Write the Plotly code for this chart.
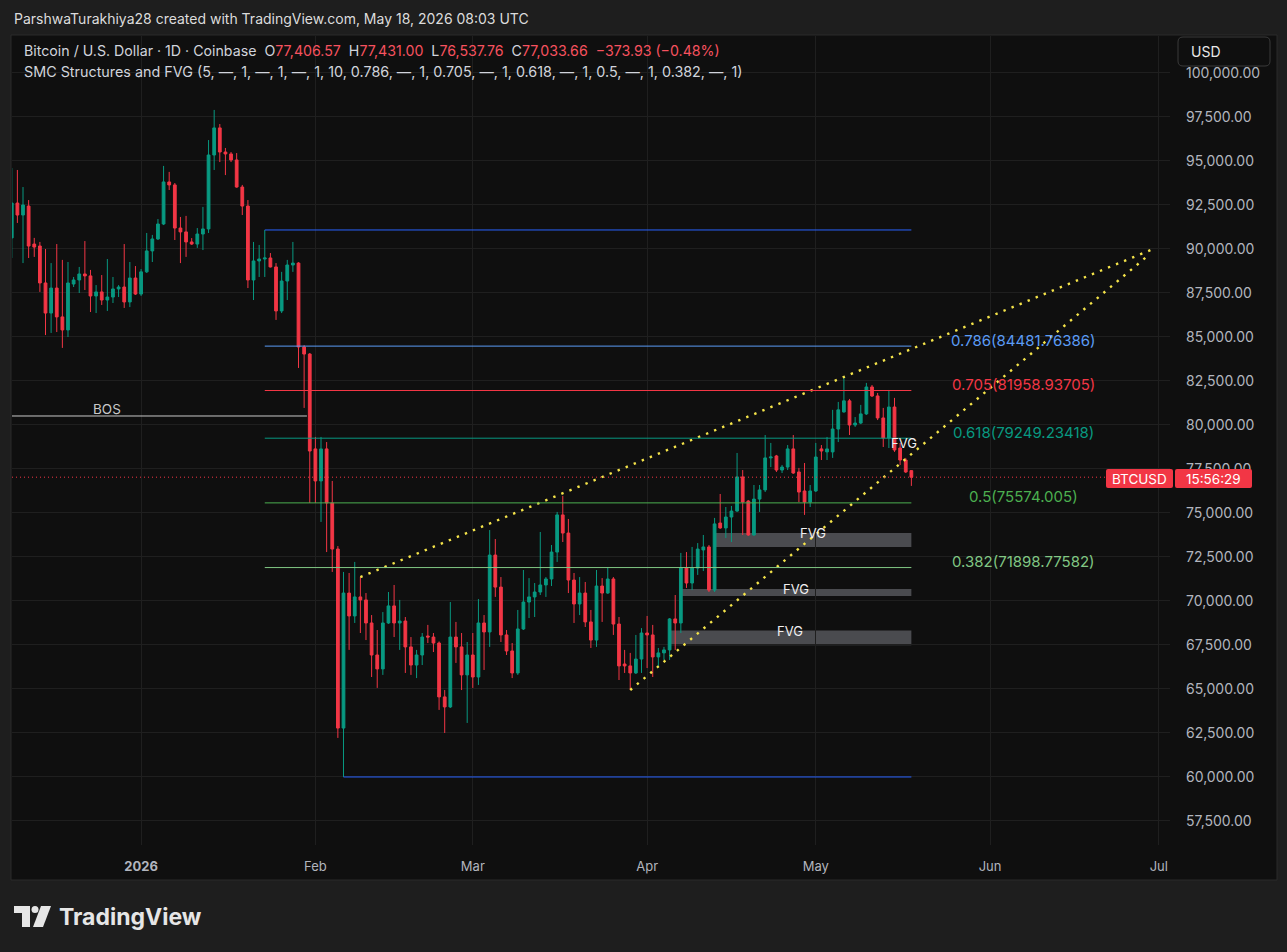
import plotly.graph_objects as go
import pandas as pd

# ---------------- DATA ----------------
dates = pd.date_range("2025-12-09", "2026-05-18", freq="D")

opens = [90630, 92610, 91930, 92440, 90280, 90170, 88070, 86360, 87780, 86140,
         85400, 88010, 88240, 88580, 88470, 87330, 87560, 87100, 87270, 87730,
         87840, 86990, 88350, 87440, 88700, 89890, 90570, 91420, 93810, 93640,
         91190, 90970, 90400, 90280, 90850, 91140, 95340, 96880, 95510, 95400,
         95060, 93520, 92440, 88240, 89320, 89430, 89490, 88980, 86480, 88180,
         89090, 89200, 84430, 84030, 78640, 76820, 78640, 75570, 72950, 62780,
         70450, 69150, 70230, 70060, 68750, 66930, 66140, 68750, 69720, 68750,
         68860, 67390, 66360, 66930, 68010, 67950, 67610, 64550, 63980, 67950,
         67390, 65800, 66930, 65680, 68750, 68240, 72610, 70790, 68070, 67160,
         65910, 68410, 69940, 70230, 70510, 70910, 71250, 72780, 74890, 73860,
         71190, 69830, 70450, 68810, 67780, 70850, 70450, 71250, 68690, 66420,
         66310, 65910, 66700, 68180, 68070, 66820, 67050, 67220, 68980, 68750,
         71870, 71020, 71870, 72900, 73070, 70620, 74430, 74150, 74770, 75110,
         77050, 75680, 73750, 75790, 76310, 78130, 78240, 77440, 77610, 78640,
         77330, 76250, 75620, 76250, 78640, 78470, 78470, 79770, 80740, 81370,
         80000, 80110, 80630, 82160, 81650, 80400, 79260, 81020, 78690, 78010,
         77406.57]

highs = [94600, 94490, 93520, 92780, 90630, 90400, 90000, 89200, 90280, 89380,
         89260, 88410, 88980, 90450, 88810, 87950, 88520, 89430, 88410, 87950,
         90280, 89260, 89030, 88860, 90910, 90800, 91700, 94720, 94380, 93750,
         91820, 91880, 90620, 91190, 92390, 96190, 97900, 97100, 95740, 95510,
         95450, 93640, 92780, 90400, 90230, 91080, 89770, 89200, 88700, 89380,
         90400, 89250, 84540, 84090, 79320, 79320, 79030, 76820, 73120, 71650,
         71590, 72220, 71360, 70450, 69200, 68350, 69370, 70510, 70910, 70060,
         69090, 67950, 67220, 68180, 68640, 68180, 67700, 64940, 69940, 68810,
         68180, 67670, 68180, 70110, 69200, 74030, 73520, 71360, 68350, 67610,
         69490, 71760, 71300, 71020, 73920, 71360, 73180, 75060, 75970, 74660,
         71590, 71360, 71080, 69490, 71760, 71300, 71930, 71360, 69090, 67220,
         67050, 68070, 68460, 69150, 68640, 67330, 67390, 69030, 70340, 72730,
         72780, 73070, 73290, 73750, 73180, 74720, 76080, 75340, 75400, 78410,
         77440, 75740, 76590, 76590, 79430, 78980, 78300, 77730, 78860, 79430,
         77560, 77840, 76590, 78980, 78860, 79320, 80860, 81310, 82780, 81480,
         80450, 81140, 82390, 82270, 81820, 80970, 81990, 81540, 78980, 78130,
         77431.00]

lows = [89490, 91480, 89200, 89490, 89550, 87560, 85110, 85230, 85280, 84380,
        85000, 87840, 87500, 87670, 86420, 86360, 86820, 86480, 86930, 87270,
        86650, 86700, 87390, 87330, 88640, 89260, 90510, 91360, 93350, 90510,
        89200, 89550, 90230, 90060, 89940, 90910, 94490, 94940, 94200, 94940,
        93480, 91930, 87780, 87100, 88410, 88410, 88950, 85970, 86360, 87100,
        88700, 83240, 80970, 75570, 75570, 74490, 72780, 71650, 62220, 60000,
        67220, 68750, 68180, 67780, 65680, 65060, 65800, 68700, 67950, 67220,
        65910, 65800, 65620, 66360, 67610, 67100, 63810, 62500, 63920, 66480,
        64940, 63070, 65060, 65230, 66080, 67390, 70230, 67670, 66930, 65620,
        65800, 68350, 69030, 69090, 70340, 70230, 70850, 72220, 73350, 70450,
        68750, 69200, 68520, 67330, 67390, 68810, 70400, 68070, 65510, 65910,
        64940, 65850, 65910, 66190, 65680, 66250, 66650, 66650, 67220, 68180,
        70740, 70620, 71480, 71700, 70510, 70510, 74100, 73580, 73350, 75060,
        73750, 73700, 73700, 75060, 76190, 77610, 77330, 77270, 77440, 77220,
        75620, 74890, 75340, 76190, 78010, 78010, 78130, 79030, 80700, 79430,
        79890, 80050, 80570, 81590, 80280, 78750, 78690, 78470, 77730, 77270,
        76537.76]

closes = [92610, 91930, 92500, 90170, 90110, 88070, 86360, 87780, 86140, 85400,
          88070, 88240, 88580, 88470, 87330, 87560, 87100, 87270, 87730, 87840,
          86990, 88350, 87440, 88700, 89890, 90570, 91420, 93810, 93640, 91190,
          90970, 90400, 90280, 90850, 91140, 95340, 96880, 95510, 95400, 95060,
          93520, 92440, 88240, 89320, 89430, 89490, 88980, 86480, 88180, 89090,
          89200, 84430, 84030, 78520, 76820, 78640, 75570, 72950, 62780, 70450,
          69150, 70230, 70060, 68750, 66930, 66140, 68750, 69720, 68750, 68860,
          67390, 66360, 66930, 67950, 67950, 67610, 64550, 63980, 67950, 67390,
          65800, 66930, 65680, 68750, 68240, 72610, 70790, 68070, 67160, 65910,
          68410, 69940, 70230, 70510, 70910, 71250, 72780, 74890, 73860, 71190,
          69830, 70450, 68810, 67780, 70850, 70450, 71250, 68690, 66310, 66310,
          65910, 66700, 68180, 68070, 66820, 67050, 67220, 68980, 68750, 71870,
          71020, 71870, 72950, 73070, 70620, 74380, 74150, 74770, 75110, 77050,
          75620, 73750, 75790, 76310, 78130, 78180, 77440, 77610, 78640, 77270,
          76190, 75620, 76250, 78180, 78520, 78640, 79770, 80860, 81370, 80000,
          80110, 80630, 82160, 81650, 80400, 79260, 81020, 78580, 78010, 77330,
          77033.66]

last_price = 77033.66

# swing structure (range high / range low)
range_high = 91080
range_low = 60000
range_high_start = "2026-01-23"
range_low_start = "2026-02-06"
levels_end = "2026-05-18"

fib_ratios = ["0.786", "0.705", "0.618", "0.5", "0.382"]
fib_values = ["84481.76386", "81958.93705", "79249.23418", "75574.005", "71898.77582"]
fib_start = "2026-01-23"
fib_label_date = "2026-06-07"

bos_price = 80511
bos_start = "2025-12-01"
bos_end = "2026-01-30 12:00"
bos_label_date = "2025-12-26"

fvg_starts = ["2026-04-13", "2026-04-07", "2026-04-05"]
fvg_tops = [73864, 70680, 68320]
fvg_bottoms = [73068, 70283, 67490]
fvg_extra_label = ("2026-05-16 16:00", 78980)

upper_trend_dates = ["2026-02-09", "2026-06-30"]
upper_trend_prices = [71360, 90000]
lower_trend_dates = ["2026-03-29", "2026-06-29"]
lower_trend_prices = [64940, 89600]

month_ticks = ["2026-01-01", "2026-02-01", "2026-03-01", "2026-04-01",
               "2026-05-01", "2026-06-01", "2026-07-01"]
month_labels = ["<b>2026</b>", "Feb", "Mar", "Apr", "May", "Jun", "Jul"]

# ---------------- STYLE ----------------
W, H = 1287, 952
L, R, T, B = 12, 1170, 36, 845
FONT = "Inter"
UP, DOWN = "#089981", "#f23645"
TXT = "#d1d4dc"
AX = "#b2b5be"
fib_colors = ["#5b9cf6", "#f23645", "#089981", "#4caf50", "#81c784"]


def px(x):
    return (x - L) / (R - L)


def py(y):
    return (B - y) / (B - T)


def rrect(x0, y0, x1, y1, r):
    return (f"M {px(x0 + r)},{py(y0)} L {px(x1 - r)},{py(y0)} "
            f"Q {px(x1)},{py(y0)} {px(x1)},{py(y0 + r)} L {px(x1)},{py(y1 - r)} "
            f"Q {px(x1)},{py(y1)} {px(x1 - r)},{py(y1)} L {px(x0 + r)},{py(y1)} "
            f"Q {px(x0)},{py(y1)} {px(x0)},{py(y1 - r)} L {px(x0)},{py(y0 + r)} "
            f"Q {px(x0)},{py(y0)} {px(x0 + r)},{py(y0)} Z")


fig = go.Figure()

fig.add_trace(go.Candlestick(
    x=dates, open=opens, high=highs, low=lows, close=closes,
    increasing=dict(line=dict(color=UP, width=1), fillcolor=UP),
    decreasing=dict(line=dict(color=DOWN, width=1), fillcolor=DOWN),
    whiskerwidth=0, hoverinfo="skip", showlegend=False,
))

dot_style = dict(color="#f5e44a", width=2.4, dash="2.4px,6.3px")
fig.add_trace(go.Scatter(x=upper_trend_dates, y=upper_trend_prices, mode="lines",
                         line=dot_style, hoverinfo="skip", showlegend=False))
fig.add_trace(go.Scatter(x=lower_trend_dates, y=lower_trend_prices, mode="lines",
                         line=dot_style, hoverinfo="skip", showlegend=False))

shapes = []
annotations = []

# chart panel background
shapes.append(dict(type="rect", xref="paper", yref="paper",
                   x0=px(11), x1=px(1277), y0=py(880), y1=py(35),
                   fillcolor="#0f0f0f", line=dict(color="#2a2a2a", width=1), layer="below"))

# FVG boxes
for s, t, b in zip(fvg_starts, fvg_tops, fvg_bottoms):
    shapes.append(dict(type="rect", xref="x", yref="y", x0=s, x1=levels_end, y0=b, y1=t,
                       fillcolor="#4a4b4f", line=dict(width=0), layer="below"))
    mid = pd.Timestamp(s) + (pd.Timestamp(levels_end) - pd.Timestamp(s)) / 2
    annotations.append(dict(x=mid, y=t, xref="x", yref="y", text="FVG", showarrow=False,
                            font=dict(family=FONT, size=13, color="#f0f0f0"),
                            xanchor="center", yanchor="middle"))
annotations.append(dict(x=fvg_extra_label[0], y=fvg_extra_label[1], xref="x", yref="y",
                        text="FVG", showarrow=False,
                        font=dict(family=FONT, size=13, color="#f0f0f0"),
                        xanchor="center", yanchor="middle"))

# range high / low
shapes.append(dict(type="line", xref="x", yref="y", x0=range_high_start, x1=levels_end,
                   y0=range_high, y1=range_high, line=dict(color="#2962ff", width=1)))
shapes.append(dict(type="line", xref="x", yref="y", x0=range_low_start, x1=levels_end,
                   y0=range_low, y1=range_low, line=dict(color="#2962ff", width=1)))

# fib levels
for ratio, val, col in zip(fib_ratios, fib_values, fib_colors):
    price = float(val)
    shapes.append(dict(type="line", xref="x", yref="y", x0=fib_start, x1=levels_end,
                       y0=price, y1=price, line=dict(color=col, width=1)))
    annotations.append(dict(x=fib_label_date, y=price, xref="x", yref="y",
                            text=f"{ratio}({val})",
                            showarrow=False, font=dict(family=FONT, size=15, color=col),
                            xanchor="center", yanchor="middle", yshift=6))

# BOS
shapes.append(dict(type="line", xref="x", yref="y", x0=bos_start, x1=bos_end,
                   y0=bos_price, y1=bos_price, line=dict(color="#c9c9c9", width=1)))
annotations.append(dict(x=bos_label_date, y=bos_price, xref="x", yref="y", text="BOS",
                        showarrow=False, font=dict(family=FONT, size=13.5, color="#c9c9c9"),
                        xanchor="center", yanchor="middle", yshift=7))

# last price dotted line
shapes.append(dict(type="line", xref="paper", yref="y", x0=0, x1=px(1106),
                   y0=last_price, y1=last_price,
                   line=dict(color=DOWN, width=1, dash="1px,3px")))

# price tags
yc = 478.5
shapes.append(dict(type="path", xref="paper", yref="paper", path=rrect(1106, 469, 1173, 488, 2),
                   fillcolor="#f23645", line=dict(width=0), layer="above"))
shapes.append(dict(type="path", xref="paper", yref="paper", path=rrect(1175, 469, 1252, 488, 2),
                   fillcolor="#f23645", line=dict(width=0), layer="above"))
annotations.append(dict(x=px(1139.5), y=py(yc), xref="paper", yref="paper", text="BTCUSD",
                        showarrow=False, font=dict(family=FONT, size=13.5, color="#ffffff"),
                        xanchor="center", yanchor="middle"))
annotations.append(dict(x=px(1213.5), y=py(yc), xref="paper", yref="paper", text="15:56:29",
                        showarrow=False, font=dict(family=FONT, size=13.5, color="#ffffff"),
                        xanchor="center", yanchor="middle"))

# USD box
shapes.append(dict(type="path", xref="paper", yref="paper", path=rrect(1178, 37, 1270, 66, 5),
                   fillcolor="#0f0f0f", line=dict(color="#3a3a3a", width=1), layer="above"))
annotations.append(dict(x=px(1189), y=py(51.5), xref="paper", yref="paper", text="USD",
                        showarrow=False, font=dict(family=FONT, size=14, color="#e8e8e8"),
                        xanchor="left", yanchor="middle"))

# header
annotations.append(dict(x=px(12), y=py(18), xref="paper", yref="paper",
                        text="ParshwaTurakhiya28 created with TradingView.com, May 18, 2026 08:03 UTC",
                        showarrow=False, font=dict(family=FONT, size=14, color="#dcdcdc"),
                        xanchor="left", yanchor="middle"))

red = "#f7525f"
sp = "\u00a0\u00a0"
legend1 = ("Bitcoin / U.S. Dollar · 1D · Coinbase" + sp +
           f"O<span style='color:{red}'>77,406.57</span>" + sp +
           f"H<span style='color:{red}'>77,431.00</span>" + sp +
           f"L<span style='color:{red}'>76,537.76</span>" + sp +
           f"C<span style='color:{red}'>77,033.66</span>" + sp +
           f"<span style='color:{red}'>−373.93 (−0.48%)</span>")
annotations.append(dict(x=px(22), y=py(50), xref="paper", yref="paper", text=legend1,
                        showarrow=False, font=dict(family=FONT, size=14.2, color=TXT),
                        xanchor="left", yanchor="middle"))
legend2 = ("SMC Structures and FVG (5, —, 1, —, 1, —, 1, 10, 0.786, —, 1, 0.705, —, 1, "
           "0.618, —, 1, 0.5, —, 1, 0.382, —, 1)")
annotations.append(dict(x=px(22), y=py(71), xref="paper", yref="paper", text=legend2,
                        showarrow=False, font=dict(family=FONT, size=14.35, color=TXT),
                        xanchor="left", yanchor="middle"))

# TradingView logo
logo_col = "#e6e6e6"
shapes.append(dict(type="path", xref="paper", yref="paper", layer="above",
                   path=(f"M {px(14)},{py(906)} L {px(30)},{py(906)} L {px(30)},{py(927)} "
                         f"L {px(22)},{py(927)} L {px(22)},{py(913)} L {px(14)},{py(913)} Z"),
                   fillcolor=logo_col, line=dict(width=0)))
shapes.append(dict(type="circle", xref="paper", yref="paper", layer="above",
                   x0=px(31.5), x1=px(38.5), y0=py(913), y1=py(906),
                   fillcolor=logo_col, line=dict(width=0)))
shapes.append(dict(type="path", xref="paper", yref="paper", layer="above",
                   path=(f"M {px(41)},{py(906)} L {px(51)},{py(906)} L {px(43)},{py(927)} "
                         f"L {px(33)},{py(927)} Z"),
                   fillcolor=logo_col, line=dict(width=0)))
annotations.append(dict(x=px(57), y=py(916.5), xref="paper", yref="paper", text="<b>TradingView</b>",
                        showarrow=False, font=dict(family=FONT, size=23, color=logo_col),
                        xanchor="left", yanchor="middle"))

fig.update_layout(
    width=W, height=H,
    margin=dict(l=L, r=W - R, t=T, b=H - B),
    paper_bgcolor="#1e1e1e", plot_bgcolor="#0f0f0f",
    font=dict(family=FONT, color=AX),
    showlegend=False,
    shapes=shapes, annotations=annotations,
    xaxis=dict(type="date", range=["2025-12-09 01:00", "2026-07-03 00:00"],
               rangeslider=dict(visible=False),
               tickvals=month_ticks, ticktext=month_labels,
               showgrid=True, gridcolor="#1f1f1f", gridwidth=1,
               zeroline=False, showline=False, ticks="",
               tickfont=dict(family=FONT, size=13, color=AX),
               ticklabelstandoff=12, fixedrange=True),
    yaxis=dict(side="right", range=[56135, 102102], tick0=0, dtick=2500,
               tickformat=",.2f", showgrid=True, gridcolor="#1f1f1f", gridwidth=1,
               zeroline=False, showline=False, ticks="",
               tickfont=dict(family=FONT, size=14, color=AX),
               ticklabelstandoff=15, fixedrange=True),
)

fig.write_html("out.html", config={"displayModeBar": False},
               post_script="document.body.style.margin='0px';")
